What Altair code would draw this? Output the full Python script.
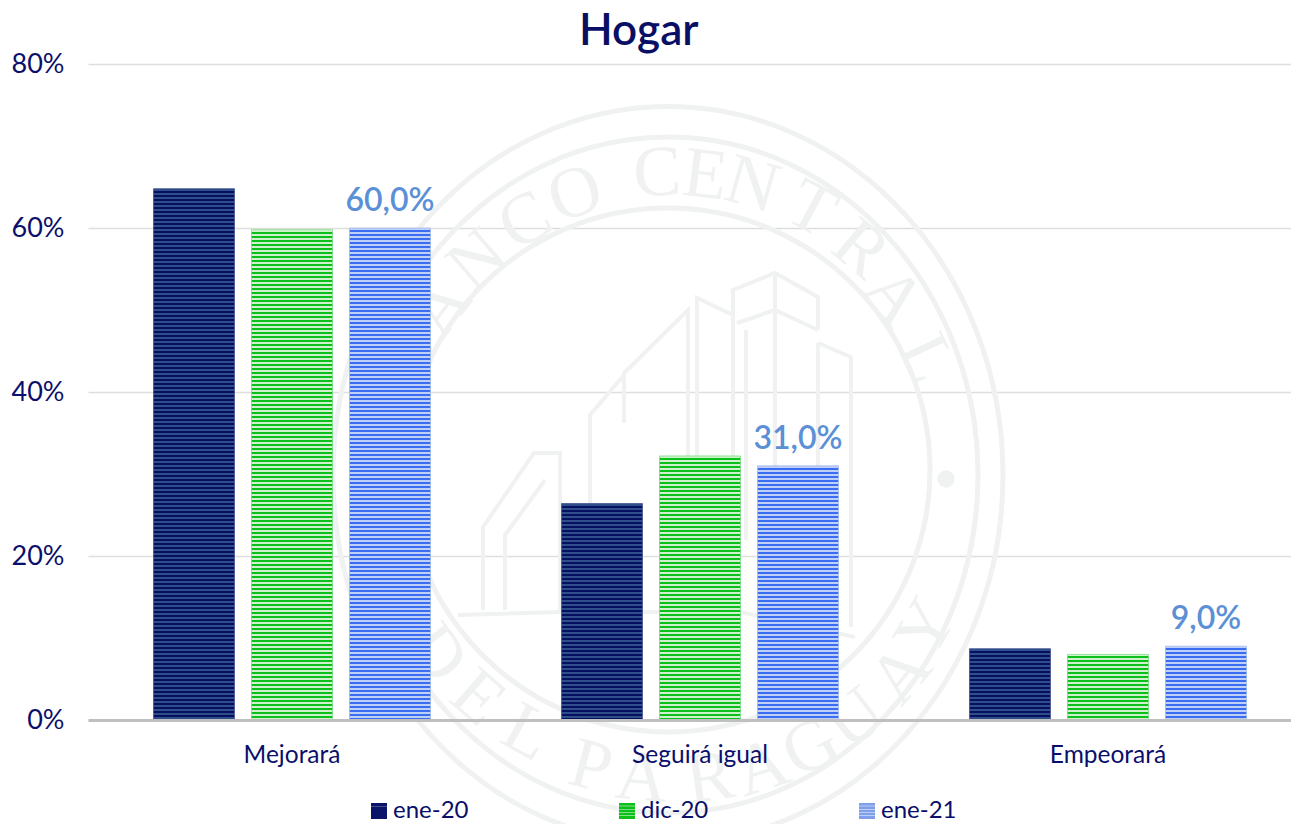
import math
import altair as alt
import pandas as pd

categories = ["Mejorará", "Seguirá igual", "Empeorará"]
series = ["ene-20", "dic-20", "ene-21"]
values_ene20 = [0.648, 0.264, 0.087]
values_dic20 = [0.598, 0.322, 0.080]
values_ene21 = [0.600, 0.310, 0.090]
labels_ene21 = ["60,0%", "31,0%", "9,0%"]
title_text = "Hogar"

NAVY = "#0A0F66"
TEXT = "#0B0F6B"
LABEL = "#5B8FD6"
WM = "#EFF2F0"
FONT = "Lato"
PLOT_H = 656
Y_MAX = 0.8
STRIPES = {
    "ene-20": ("#06105F", "#2E4E8C", "#3A4A8C"),
    "dic-20": ("#0CBF1C", "#CDF2CC", "#6FD877"),
    "ene-21": ("#3B6CF4", "#BFD0F5", "#9DB4EC"),
}
LEGEND_COLORS = ["#0A1468", "#0CC01C", "#7F9FEA"]
PERIOD = 4


def stripe_fill(value, name):
    dark, light, _ = STRIPES[name]
    h = value / Y_MAX * PLOT_H
    n = int(h // PERIOD)
    stops = []
    for i in range(n + 1):
        a = min(1, i * PERIOD / h)
        b = min(1, (i * PERIOD + PERIOD / 2) / h)
        c = min(1, (i + 1) * PERIOD / h)
        stops += [
            {"offset": a, "color": light},
            {"offset": b, "color": light},
            {"offset": b, "color": dark},
            {"offset": c, "color": dark},
        ]
    return alt.LinearGradient(
        gradient="linear", x1=0, y1=0, x2=0, y2=1,
        stops=[alt.GradientStop(**s) for s in stops],
    )


x_enc = alt.X(
    "cat:N",
    sort=categories,
    title=None,
    scale=alt.Scale(domain=categories, range=[0, 1224], paddingInner=0.2794, paddingOuter=0.1397),
    axis=alt.Axis(
        labelAngle=0, labelFontSize=24.5, labelColor=TEXT, labelFont=FONT, labelPadding=23,
        domainColor="#BFBFBF", domainWidth=3, ticks=False, grid=False, zindex=1,
    ),
)
y_enc = alt.Y(
    "val:Q",
    title=None,
    scale=alt.Scale(domain=[0, Y_MAX], nice=False),
    axis=alt.Axis(
        values=[0, 0.2, 0.4, 0.6, 0.8], format=".0%", labelFontSize=27, labelColor=TEXT,
        labelFont=FONT, labelPadding=24, ticks=False, domain=False,
        gridColor="#DDDFDF", gridWidth=1.6,
    ),
)
off_enc = alt.XOffset(
    "ser:N", sort=series,
    scale=alt.Scale(domain=series, paddingInner=0.1735, paddingOuter=0.0867),
)

# Faint seal behind the plot (page pixel positions)
OX, OY = 88, 64
CX, CY = 668, 479
rings = pd.DataFrame({
    "px": [CX - OX, CX - OX, CX - OX],
    "py": [475 - OY, 475 - OY, 470 - OY],
    "shape": [
        "M-1,0A1,1.1 0 1,1 1,0A1,1.1 0 1,1 -1,0Z",
        "M-1,0A1,1.09 0 1,1 1,0A1,1.09 0 1,1 -1,0Z",
        "M-1,0A1,1 0 1,1 1,0A1,1 0 1,1 -1,0Z",
    ],
    "size": [(2 * 335) ** 2, (2 * 310) ** 2, (2 * 262) ** 2],
})
ring_layers = [
    alt.Chart(rings.iloc[[i]]).mark_point(
        shape=rings["shape"][i], size=float(rings["size"][i]),
        stroke=WM, strokeWidth=5, filled=False, opacity=1,
    ).encode(
        x=alt.X("px:Q", scale=None, axis=None),
        y=alt.Y("py:Q", scale=None, axis=None),
    )
    for i in range(3)
]

seal_letters = list("BANCOCENTRALDELPARAGUAY")
seal_angles = [-65, -53, -41, -29, -18, -2, 7, 16, 28, 40, 51, 65,
               -127, -139, -151, -165, -175, 172, 162, 152, 142, 130, 120]
seal_r = [285, 285, 290, 295, 300, 306, 306, 306, 306, 300, 290, 285,
          290, 290, 290, 298, 300, 302, 304, 304, 304, 304, 298]
rows = []
for ch, a, r in zip(seal_letters, seal_angles, seal_r):
    t = math.radians(a)
    rot = a if abs(a) < 90 else (a + 180 if a < 0 else a - 180)
    rows.append({
        "ch": ch,
        "px": CX + r * math.sin(t) - OX,
        "py": CY - r * math.cos(t) * 1.0 - OY,
        "rot": rot % 360,
    })
letters_df = pd.DataFrame(rows)
letters = alt.Chart(letters_df).mark_text(
    font="Liberation Serif", fontSize=72, color=WM, baseline="middle", align="center"
).encode(
    x=alt.X("px:Q", scale=None, axis=None),
    y=alt.Y("py:Q", scale=None, axis=None),
    text="ch:N",
    angle=alt.Angle("rot:Q", scale=None),
)

building_paths = [
    [(733, 540), (733, 290), (775, 273), (818, 297), (818, 330)],
    [(775, 273), (775, 540)],
    [(737, 323), (775, 310), (818, 330)],
    [(746, 540), (746, 330)],
    [(697, 540), (697, 298), (733, 315)],
    [(688, 540), (688, 310), (624, 373), (624, 423)],
    [(818, 343), (851, 357), (851, 627)],
    [(818, 343), (818, 620)],
    [(483, 610), (483, 527), (534, 453), (560, 453), (560, 612)],
    [(505, 610), (505, 535), (545, 480)],
    [(458, 615), (561, 612)],
    [(600, 612), (740, 612), (855, 637)],
    [(590, 612), (590, 415), (624, 375)],
]
bx, by, bid = [], [], []
for i, path in enumerate(building_paths):
    for j, (a, b) in enumerate(path):
        bx.append(a - OX)
        by.append(b - OY)
        bid.append(f"{i:02d}-{j:02d}")
building_df = pd.DataFrame({"px": bx, "py": by, "o": bid, "p": [s[:2] for s in bid]})
building = alt.Chart(building_df).mark_line(color=WM, strokeWidth=4).encode(
    x=alt.X("px:Q", scale=None, axis=None),
    y=alt.Y("py:Q", scale=None, axis=None),
    detail="p:N",
    order="o:N",
)
dots_df = pd.DataFrame({"px": [946 - OX, 390 - OX], "py": [479 - OY, 479 - OY]})
dots = alt.Chart(dots_df).mark_point(filled=True, size=300, color=WM, opacity=1).encode(
    x=alt.X("px:Q", scale=None, axis=None),
    y=alt.Y("py:Q", scale=None, axis=None),
)

# Bars
all_values = {"ene-20": values_ene20, "dic-20": values_dic20, "ene-21": values_ene21}
bars = []
for name in series:
    for cat, v in zip(categories, all_values[name]):
        d = pd.DataFrame({"cat": [cat], "ser": [name], "val": [v]})
        bars.append(
            alt.Chart(d).mark_bar(
                fill=stripe_fill(v, name), stroke=STRIPES[name][2], strokeWidth=1,
                strokeOpacity=0.7,
            ).encode(x=x_enc, y=y_enc, xOffset=off_enc)
        )

label_df = pd.DataFrame({"cat": categories, "ser": "ene-21", "val": values_ene21, "txt": labels_ene21})
labels = alt.Chart(label_df).mark_text(
    font=FONT, fontSize=32, fontWeight=600, color=LABEL, baseline="alphabetic", dy=-17,
).encode(x=x_enc, y=y_enc, xOffset=off_enc, text="txt:N")

# Legend carrier
legend_df = pd.DataFrame({"cat": categories[0], "ser": series, "val": [0, 0, 0]})
STRIPE_SHAPE = "M-1,-1H1V-.66H-1ZM-1,-.6H1V-.26H-1ZM-1,-.2H1V.14H-1ZM-1,.2H1V.54H-1ZM-1,.6H1V1H-1Z"
NAVY_SHAPE = "M-1,-1H1V-.58H-1ZM-1,-.56H1V-.14H-1ZM-1,-.12H1V.3H-1ZM-1,.32H1V.74H-1ZM-1,.76H1V1H-1Z"
legend_layer = alt.Chart(legend_df).mark_point(filled=True, size=0, opacity=1).encode(
    x=x_enc, y=y_enc, xOffset=off_enc,
    color=alt.Color(
        "ser:N", sort=series,
        scale=alt.Scale(domain=series, range=LEGEND_COLORS),
        legend=alt.Legend(
            title=None, orient="none", legendX=279, legendY=735, direction="horizontal",
            columns=3, columnPadding=146, symbolSize=256, labelFontSize=24,
            labelColor=TEXT, labelFont=FONT, labelOffset=2, symbolStrokeWidth=0,
            symbolOpacity=1,
        ),
    ),
    shape=alt.Shape(
        "ser:N", sort=series,
        scale=alt.Scale(domain=series, range=[NAVY_SHAPE, STRIPE_SHAPE, STRIPE_SHAPE]),
        legend=alt.Legend(title=None),
    ),
)

chart = alt.layer(
    *ring_layers, letters, building, dots, *bars, labels, legend_layer
).properties(
    width=1203,
    height=PLOT_H,
    padding={"left": 80, "top": 56, "right": 0, "bottom": 104},
    autosize=alt.AutoSizeParams(type="none"),
    background="white",
    title=alt.TitleParams(
        title_text, anchor="start", frame="group", dx=491, dy=5, fontSize=44, fontWeight=600,
        font=FONT, color=NAVY, offset=1,
    ),
).configure_view(stroke=None)

chart.save("out.html", embed_options={"renderer": "svg", "actions": False})
